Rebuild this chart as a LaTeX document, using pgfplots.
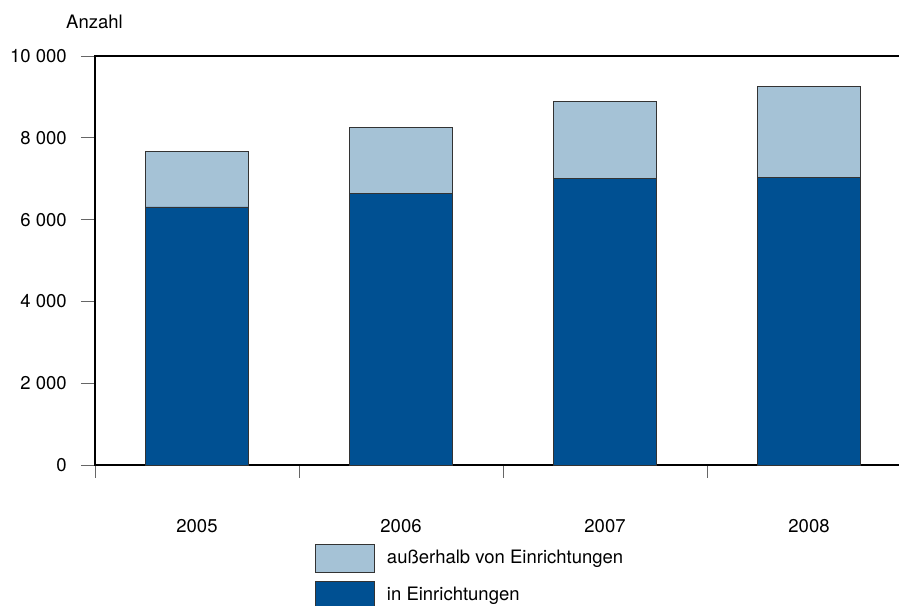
\documentclass[border=0pt]{standalone}
\usepackage{pgfplots}
\pgfplotsset{compat=1.18}
\usepackage{fontspec}
\setmainfont{TeX Gyre Heros}

\definecolor{darkblue}{RGB}{0,80,146}
\definecolor{lightblue}{RGB}{165,194,214}

\begin{document}
\fontsize{18.5bp}{22bp}\selectfont
\begin{tikzpicture}
\begin{axis}[
   scale only axis,
   width=816bp, height=409bp,
   ybar stacked,
   bar width=103bp,
   xmin=-0.5, xmax=3.5,
   ymin=0, ymax=10000,
   scaled y ticks=false,
   xtick={0,1,2,3},
   xticklabels={2005,2006,2007,2008},
   minor xtick={-0.5,0.5,1.5,2.5,3.5},
   ytick={0,2000,4000,6000,8000,10000},
   yticklabels={0,2 000,4 000,6 000,8 000,10 000},
   tick align=outside,
   xtick pos=bottom, ytick pos=left,
   major tick length=14bp,
   minor tick length=13bp,
   major x tick style={draw=none},
   tick style={gray!80!black, line width=0.8bp},
   axis line style={black, line width=1.3bp},
   x tick label style={yshift=-34bp},
   y tick label style={xshift=-8bp},
   ylabel={Anzahl},
   y label style={at={(axis description cs:0,1)}, rotate=-90, anchor=base west,
                  inner sep=0pt, xshift=-29bp, yshift=27bp},
   legend style={draw=none, at={(0.2696,-0.193)}, anchor=north west,
                 inner sep=0pt, row sep=8bp, column sep=10bp, fill=none},
   legend cell align=left,
   reverse legend,
   legend image code/.code={\draw[#1] (0bp,-14bp) rectangle (59bp,14bp);},
]
\addplot [fill=darkblue, draw=black!80, line width=0.8bp] coordinates {
(0,6310) (1,6650) (2,7010) (3,7020)
};
\addlegendentry{in Einrichtungen}
\addplot [fill=lightblue, draw=black!80, line width=0.8bp] coordinates {
(0,1350) (1,1595) (2,1875) (3,2240)
};
\addlegendentry{außerhalb von Einrichtungen}
\end{axis}
\pgfresetboundingbox
\path[use as bounding box] ([shift={(-95bp,-141bp)}]current axis.south west)
   rectangle ([shift={(-12bp,56bp)}]current axis.north east);
\end{tikzpicture}
\end{document}
